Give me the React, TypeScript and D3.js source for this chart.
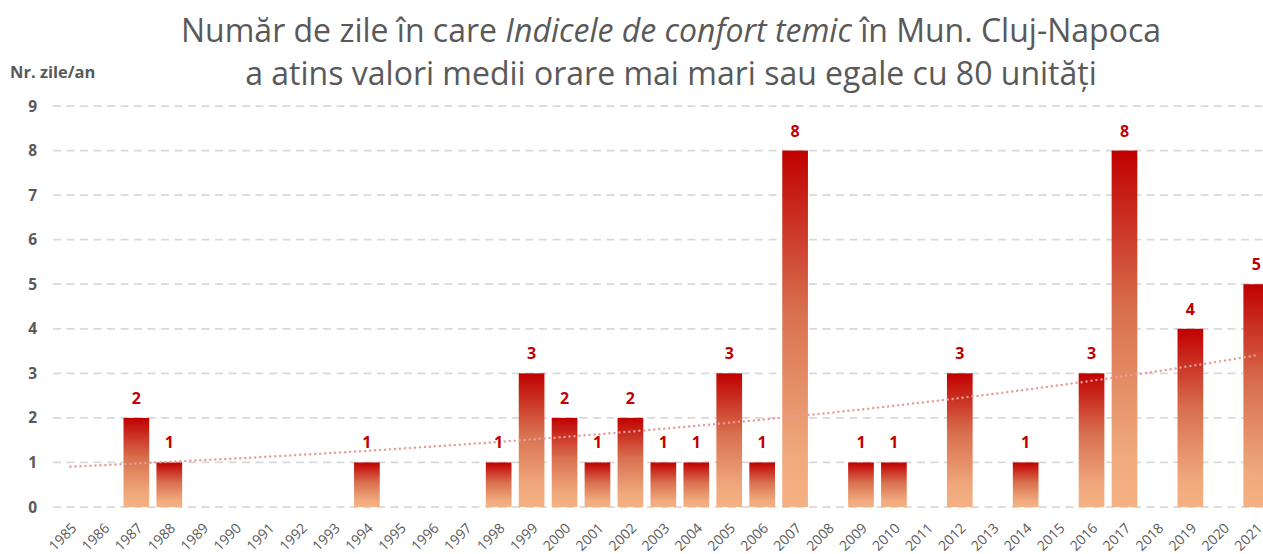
import React, { useEffect, useRef } from 'react';
import * as d3 from 'd3';

// years on the x axis
const years: string[] = [
  '1985', '1986', '1987', '1988', '1989', '1990', '1991', '1992', '1993', '1994',
  '1995', '1996', '1997', '1998', '1999', '2000', '2001', '2002', '2003', '2004',
  '2005', '2006', '2007', '2008', '2009', '2010', '2011', '2012', '2013', '2014',
  '2015', '2016', '2017', '2018', '2019', '2020', '2021',
];

// number of days per year (0 = no bar)
const days: number[] = [
  0, 0, 2, 1, 0, 0, 0, 0, 0, 1,
  0, 0, 0, 1, 3, 2, 1, 2, 1, 1,
  3, 1, 8, 0, 1, 1, 0, 3, 0, 1,
  0, 3, 8, 0, 4, 0, 5,
];

const yTicks: number[] = [0, 1, 2, 3, 4, 5, 6, 7, 8, 9];

const W = 1263;
const H = 554;

const App = () => {
  const svgRef = useRef<SVGSVGElement>(null);

  useEffect(() => {
    const svg = d3.select(svgRef.current);
    svg.selectAll('*').remove();

    const grey = '#595959';
    const red = '#c00000';
    const font = '"Open Sans", sans-serif';

    const x = d3.scaleBand<string>()
      .domain(years)
      .range([54, 1272.7])
      .paddingInner(0.22)
      .paddingOuter(0.11);

    const y = d3.scaleLinear().domain([0, 9]).range([507, 106]);

    // gradient for bars (red on top to salmon at bottom)
    const defs = svg.append('defs');
    const grad = defs.append('linearGradient')
      .attr('id', 'barGrad')
      .attr('x1', 0).attr('y1', 0).attr('x2', 0).attr('y2', 1);
    grad.append('stop').attr('offset', '0%').attr('stop-color', '#c00000');
    grad.append('stop').attr('offset', '45%').attr('stop-color', '#d8704f');
    grad.append('stop').attr('offset', '85%').attr('stop-color', '#f0a97c');
    grad.append('stop').attr('offset', '100%').attr('stop-color', '#f4b183');

    // title
    const title = svg.append('text')
      .attr('x', 671)
      .attr('text-anchor', 'middle')
      .style('font-family', font)
      .style('font-size', '32px')
      .attr('fill', grey);
    const l1 = title.append('tspan').attr('x', 671).attr('y', 42);
    l1.append('tspan').text('Număr de zile în care ');
    l1.append('tspan').style('font-style', 'italic').text('Indicele de confort temic');
    l1.append('tspan').text(' în Mun. Cluj-Napoca');
    title.append('tspan').attr('x', 671).attr('y', 85)
      .text('a atins valori medii orare mai mari sau egale cu 80 unități');

    // y axis title
    svg.append('text')
      .attr('x', 10).attr('y', 78)
      .style('font-family', font)
      .style('font-size', '16.5px')
      .style('font-weight', 'bold')
      .attr('fill', grey)
      .text('Nr. zile/an');

    // gridlines
    svg.append('g')
      .selectAll('line')
      .data(yTicks)
      .enter().append('line')
      .attr('x1', 53).attr('x2', W)
      .attr('y1', d => y(d)).attr('y2', d => y(d))
      .attr('stroke', '#d9d9d9')
      .attr('stroke-width', 1.75)
      .attr('stroke-dasharray', '8,5.5');

    // y tick labels
    svg.append('g')
      .selectAll('text')
      .data(yTicks)
      .enter().append('text')
      .attr('x', 37)
      .attr('y', d => y(d))
      .attr('dy', '0.36em')
      .attr('text-anchor', 'end')
      .style('font-family', font)
      .style('font-size', '15.5px')
      .style('font-weight', 'bold')
      .attr('fill', grey)
      .text(d => d);

    const data = years.map((yr, i) => ({ yr, v: days[i], i }));
    const nonZero = data.filter(d => d.v > 0);

    // bars
    svg.append('g')
      .selectAll('rect')
      .data(nonZero)
      .enter().append('rect')
      .attr('x', d => x(d.yr)!)
      .attr('y', d => y(d.v))
      .attr('width', x.bandwidth())
      .attr('height', d => y(0) - y(d.v))
      .attr('fill', 'url(#barGrad)');

    // exponential trendline fitted on the non-zero years (like Excel)
    const mx = d3.mean(nonZero, d => d.i)!;
    const my = d3.mean(nonZero, d => Math.log(d.v))!;
    const sxy = d3.sum(nonZero, d => (d.i - mx) * (Math.log(d.v) - my));
    const sxx = d3.sum(nonZero, d => (d.i - mx) ** 2);
    const b = sxy / sxx;
    const a = my - b * mx;
    const step = x.step();
    const x0 = x(years[0])! + x.bandwidth() / 2;
    const trendPts = d3.range(0, years.length - 1 + 0.001, 0.25)
      .map(t => [x0 + t * step, y(Math.exp(a + b * t))] as [number, number]);

    svg.append('path')
      .attr('d', d3.line()(trendPts))
      .attr('fill', 'none')
      .attr('stroke', '#e99b9b')
      .attr('stroke-width', 2.5)
      .attr('stroke-linecap', 'round')
      .attr('stroke-dasharray', '0,5');

    // data labels
    svg.append('g')
      .selectAll('text')
      .data(nonZero)
      .enter().append('text')
      .attr('x', d => x(d.yr)! + x.bandwidth() / 2)
      .attr('y', d => y(d.v) - 14)
      .attr('text-anchor', 'middle')
      .style('font-family', font)
      .style('font-size', '16px')
      .style('font-weight', 'bold')
      .attr('fill', red)
      .text(d => d.v);

    // x labels (rotated)
    svg.append('g')
      .selectAll('text')
      .data(years)
      .enter().append('text')
      .attr('transform', d => `translate(${x(d)! + x.bandwidth() / 2 + 7},529) rotate(-45)`)
      .attr('text-anchor', 'end')
      .style('font-family', font)
      .style('font-size', '14px')
      .attr('fill', grey)
      .text(d => d);
  }, []);

  return (
    <div style={{ position: 'absolute', left: 0, top: 0, width: W, height: H, background: '#fff', overflow: 'hidden' }}>
      <svg ref={svgRef} width={W} height={H} style={{ display: 'block' }} />
    </div>
  );
};

export default App;
